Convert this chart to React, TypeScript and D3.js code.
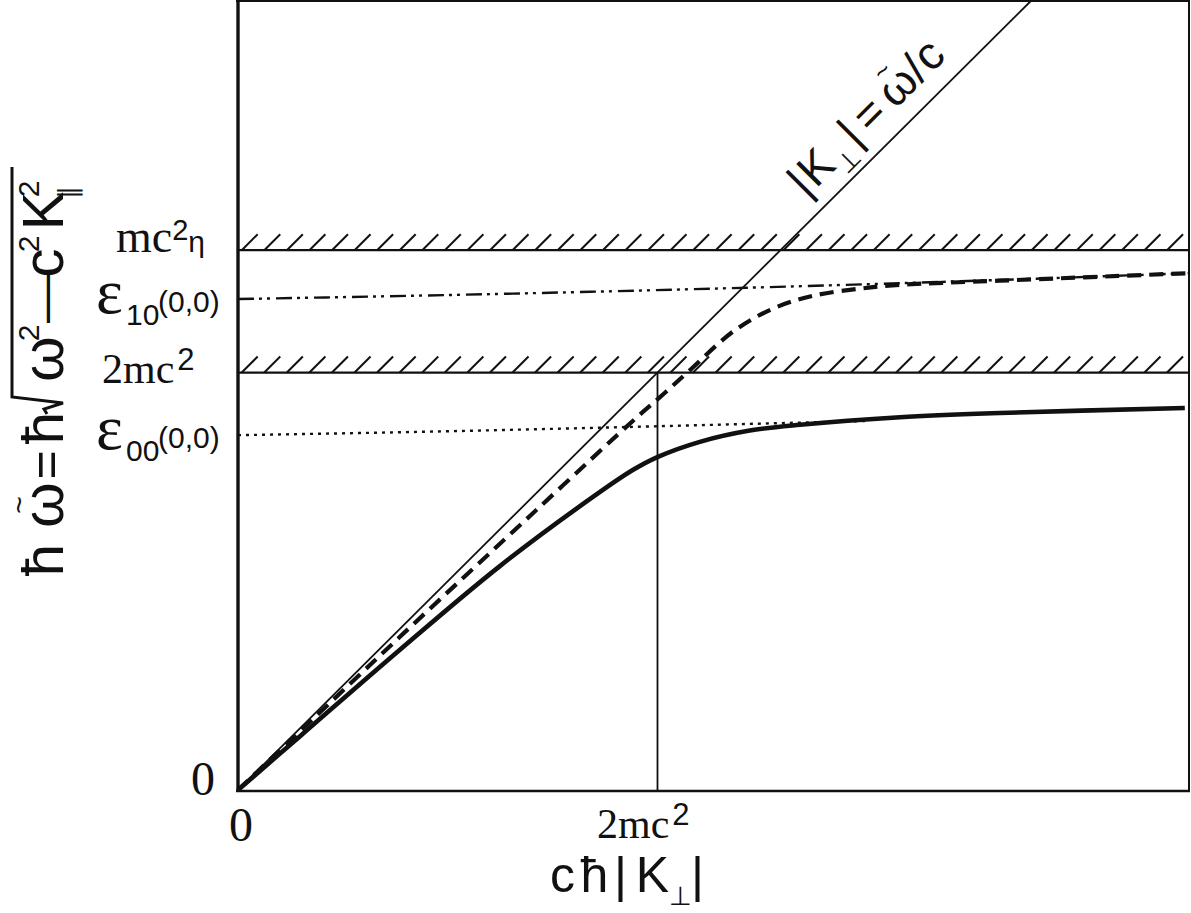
import React from 'react';
import * as d3 from 'd3';

const W = 1191;
const H = 913;

// data units: 1 = 2mc^2 (both axes)
const X_MAX = 2.267;
const Y_MAX = 1.89;
const TWO_MC2 = 1.0;
const MC2_ETA = 1.293;

// lower branch (thick solid)
const solidX = [0, 0.148, 0.386, 0.625, 0.863, 0.942, 1.001, 1.101, 1.22, 1.34, 1.578, 1.816, 2.257];
const solidY = [0, 0.129, 0.336, 0.537, 0.714, 0.767, 0.798, 0.834, 0.861, 0.875, 0.893, 0.903, 0.915];
// upper branch (thick dashed)
const dashedX = [0, 0.386, 0.703, 0.951, 1.006, 1.07, 1.18, 1.275, 1.371, 1.483, 1.578, 1.816, 2.267];
const dashedY = [0, 0.367, 0.663, 0.893, 0.941, 0.999, 1.098, 1.153, 1.184, 1.201, 1.21, 1.22, 1.238];
// eps_10(0,0) (dash-dot-dot)
const dashDotX = [0, 0.696, 1.578, 2.267];
const dashDotY = [1.176, 1.19, 1.214, 1.238];
// eps_00(0,0) (dotted)
const dottedX = [0, 0.386, 1.34, 1.5];
const dottedY = [0.85, 0.857, 0.88, 0.884];

const HATCH_START = 0.0088;
const HATCH_STEP = 0.0538;
const HATCH_COUNT = 42;

const SERIF = '"Liberation Serif", "Times New Roman", serif';
const SANS = '"Liberation Sans", Arial, Helvetica, sans-serif';

type Glyph = { t: string; p: number; s: number; dy: number };

export default function App() {
  const x = d3.scaleLinear().domain([0, X_MAX]).range([238, 1189]);
  const y = d3.scaleLinear().domain([0, Y_MAX]).range([790, 1]);

  const smooth = d3
    .line<[number, number]>()
    .x((d) => x(d[0]))
    .y((d) => y(d[1]))
    .curve(d3.curveCatmullRom.alpha(0.5));

  const straight = d3
    .line<[number, number]>()
    .x((d) => x(d[0]))
    .y((d) => y(d[1]))
    .curve(d3.curveMonotoneX);

  const zip = (a: number[], b: number[]) => a.map((v, i) => [v, b[i]] as [number, number]);

  const hatches = d3.range(HATCH_COUNT).map((i) => HATCH_START + i * HATCH_STEP);

  // light line |K| = w/c : y = x, clipped at top of frame
  const diagEnd = Math.min(X_MAX, Y_MAX);

  const hatchRow = (level: number, key: string) => (
    <g key={key}>
      <line x1={x(0)} x2={x(X_MAX)} y1={y(level)} y2={y(level)} stroke="#111" strokeWidth={2.2} />
      {hatches.map((h, i) => (
        <line
          key={i}
          x1={x(h)}
          y1={y(level)}
          x2={x(h) + 16}
          y2={y(level) - 16}
          stroke="#111"
          strokeWidth={2}
        />
      ))}
    </g>
  );

  const yLabelItems: Glyph[] = [
    { t: 'ħ', p: 20, s: 58, dy: 0 },
    { t: 'ω', p: 75, s: 58, dy: 0 },
    { t: '~', p: 75, s: 30, dy: -34 },
    { t: '=', p: 115, s: 50, dy: 0 },
    { t: 'ħ', p: 152, s: 58, dy: 0 },
    { t: 'ω', p: 221, s: 58, dy: 0 },
    { t: '2', p: 247, s: 30, dy: -24 },
    { t: '—', p: 281, s: 48, dy: -2 },
    { t: 'c', p: 317, s: 58, dy: 0 },
    { t: '2', p: 336, s: 30, dy: -24 },
    { t: 'K', p: 369, s: 58, dy: 0 },
    { t: '2', p: 391, s: 30, dy: -24 },
    { t: '∥', p: 388, s: 26, dy: 14 },
  ];

  const xLabelItems: Glyph[] = [
    { t: 'c', p: 562.5, s: 50, dy: 0 },
    { t: 'ħ', p: 594.5, s: 50, dy: 0 },
    { t: '|', p: 620.5, s: 50, dy: 0 },
    { t: 'K', p: 652.5, s: 50, dy: 0 },
    { t: '⊥', p: 680, s: 26, dy: 13 },
    { t: '|', p: 697.5, s: 50, dy: 0 },
  ];

  const diagLabelItems: Glyph[] = [
    { t: '|', p: 14.8, s: 46, dy: 0 },
    { t: 'K', p: 38, s: 46, dy: 0 },
    { t: '⊥', p: 66, s: 26, dy: 12 },
    { t: '|', p: 86, s: 46, dy: 0 },
    { t: '=', p: 113, s: 46, dy: 0 },
    { t: 'ω', p: 153, s: 46, dy: 0 },
    { t: '~', p: 153, s: 26, dy: -28 },
    { t: '/', p: 178, s: 46, dy: 0 },
    { t: 'c', p: 197, s: 46, dy: 0 },
  ];

  return (
    <svg width={W} height={H} style={{ display: 'block', position: 'absolute', left: 0, top: 0 }}>
      <rect x={0} y={0} width={W} height={H} fill="#fff" />

      {/* hatched boundaries */}
      {hatchRow(MC2_ETA, 'eta')}
      {hatchRow(TWO_MC2, 'two')}

      {/* vertical at 2mc^2 */}
      <line x1={x(TWO_MC2)} x2={x(TWO_MC2)} y1={y(0)} y2={y(TWO_MC2)} stroke="#111" strokeWidth={1.8} />

      {/* light line */}
      <line x1={x(0)} y1={y(0)} x2={x(diagEnd)} y2={y(diagEnd)} stroke="#111" strokeWidth={1.8} />

      {/* eps_10 dash-dot-dot */}
      <path
        d={straight(zip(dashDotX, dashDotY)) || ''}
        fill="none"
        stroke="#111"
        strokeWidth={2.4}
        strokeDasharray="16 5 3 5 3 6"
      />
      {/* eps_00 dotted */}
      <path
        d={straight(zip(dottedX, dottedY)) || ''}
        fill="none"
        stroke="#111"
        strokeWidth={2.4}
        strokeDasharray="3 5"
      />
      {/* upper branch dashed */}
      <path
        d={smooth(zip(dashedX, dashedY)) || ''}
        fill="none"
        stroke="#111"
        strokeWidth={4.2}
        strokeDasharray="14 8"
      />
      {/* lower branch solid */}
      <path d={smooth(zip(solidX, solidY)) || ''} fill="none" stroke="#111" strokeWidth={4.6} />

      {/* frame */}
      <line x1={236} x2={1190} y1={1} y2={1} stroke="#111" strokeWidth={2} />
      <line x1={1189} x2={1189} y1={0} y2={792} stroke="#111" strokeWidth={2} />
      <line x1={236} x2={1190} y1={791} y2={791} stroke="#111" strokeWidth={2.6} />
      <line x1={238} x2={238} y1={0} y2={792} stroke="#111" strokeWidth={3.4} />

      {/* tick labels */}
      <g fill="#111" fontFamily={SERIF}>
        <text x={215} y={795} fontSize={48} textAnchor="end">0</text>
        <text x={x(0) + 3} y={841} fontSize={48} textAnchor="middle">0</text>
        <text x={597} y={838} fontSize={42}>
          2mc
          <tspan fontFamily={SANS} fontSize={31} dx={3} dy={-13}>2</tspan>
        </text>
        <text x={102} y={y(TWO_MC2) + 10} fontSize={42}>
          2mc
          <tspan fontFamily={SANS} fontSize={31} dx={3} dy={-13}>2</tspan>
        </text>
        <text x={116} y={y(MC2_ETA) + 2} fontSize={46}>
          mc
          <tspan fontFamily={SANS} fontSize={29} dy={-12}>2</tspan>
          <tspan fontFamily={SANS} fontSize={30} dy={12}>η</tspan>
        </text>
        {/* eps_10 */}
        <text x={96} y={y(dashDotY[0]) + 14} fontSize={64}>ε</text>
        <text x={126} y={y(dashDotY[0]) + 26} fontSize={30} fontFamily={SANS}>10</text>
        <text x={158} y={y(dashDotY[0]) + 13} fontSize={30} fontFamily={SANS}>(0,0)</text>
        {/* eps_00 */}
        <text x={96} y={y(dottedY[0]) + 14} fontSize={64}>ε</text>
        <text x={126} y={y(dottedY[0]) + 26} fontSize={30} fontFamily={SANS}>00</text>
        <text x={158} y={y(dottedY[0]) + 13} fontSize={30} fontFamily={SANS}>(0,0)</text>
      </g>

      {/* x-axis label */}
      <g fill="#111" fontFamily={SANS}>
        {xLabelItems.map((d, i) => (
          <text key={i} x={d.p} y={892 + d.dy} fontSize={d.s} textAnchor="middle">
            {d.t}
          </text>
        ))}
      </g>

      {/* y-axis label */}
      <g transform="translate(63,580) rotate(-90)" fill="#111" fontFamily={SANS}>
        {yLabelItems.map((d, i) => (
          <text key={i} x={d.p} y={d.dy} fontSize={d.s} textAnchor="middle">
            {d.t}
          </text>
        ))}
        <path
          d="M166,-16 L171,-19 L177,0 L183,-51 L413,-51"
          fill="none"
          stroke="#111"
          strokeWidth={3}
          strokeLinejoin="miter"
        />
      </g>

      {/* light-line label */}
      <g transform="translate(800,205) rotate(-45)" fill="#111" fontFamily={SANS}>
        {diagLabelItems.map((d, i) => (
          <text key={i} x={d.p} y={d.dy} fontSize={d.s} textAnchor="middle">
            {d.t}
          </text>
        ))}
      </g>
    </svg>
  );
}
